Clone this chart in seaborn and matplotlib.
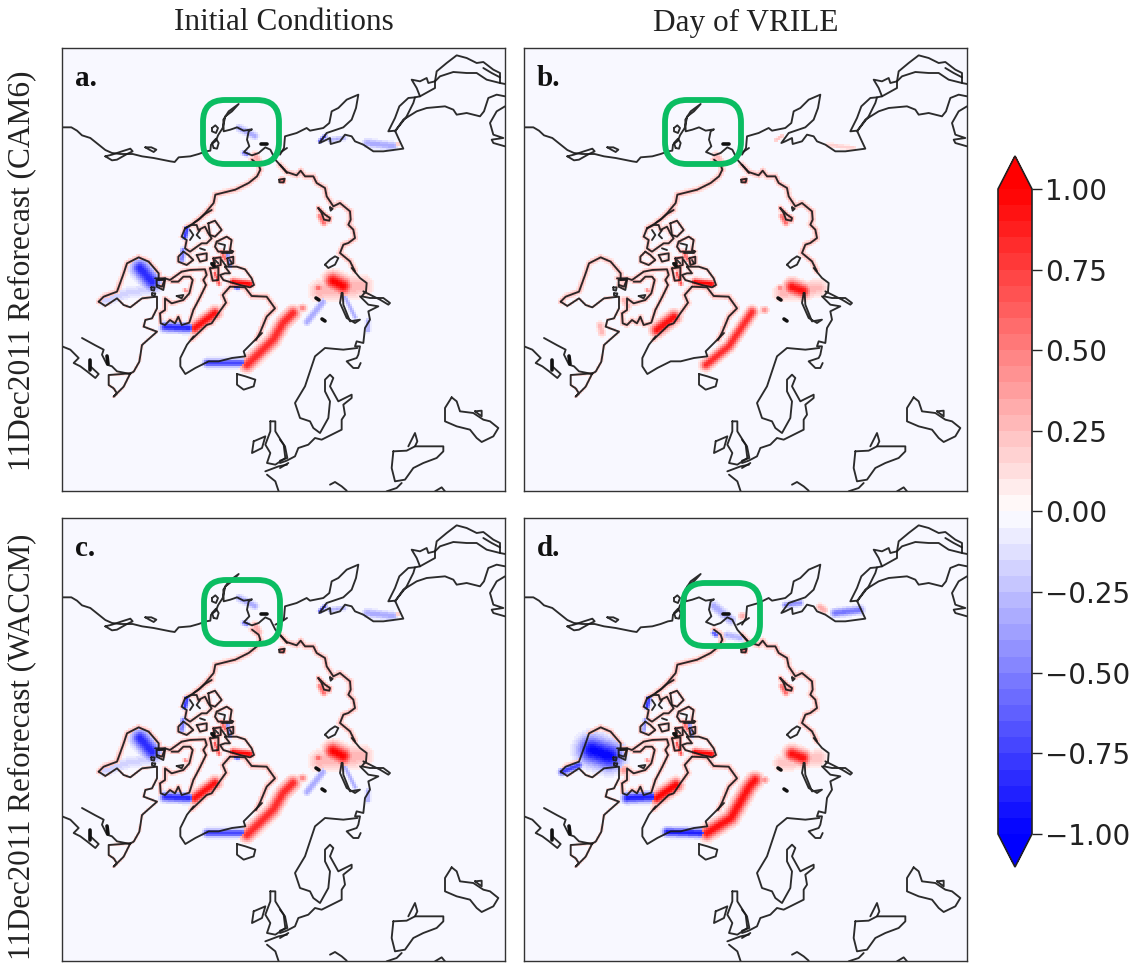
import numpy as np
import matplotlib
matplotlib.use("Agg")
import matplotlib.pyplot as plt
from matplotlib.colors import ListedColormap, BoundaryNorm
from matplotlib.cm import ScalarMappable
from matplotlib.patches import FancyBboxPatch
import seaborn as sns

W, H = 1138, 963
row_titles = ["11Dec2011 Reforecast (CAM6)", "11Dec2011 Reforecast (WACCM)"]
col_titles = ["Initial Conditions", "Day of VRILE"]
panel_labels = ["a.", "b.", "c.", "d."]
cbar_ticks = [-1.0, -0.75, -0.5, -0.25, 0.0, 0.25, 0.5, 0.75, 1.0]

# coastlines, grouped by the region they were read from (region origin, lines)
coast_top_left = ((0, 0), [
 [(0,238),(28,238),(45,248),(60,262),(85,270),(110,290),(130,306),(150,315),(175,318),(212,318),(240,325),(275,330),(300,335),(325,340),(338,342),(350,328),(385,325),(410,318),(432,310),(445,308),(447,290),(462,278),(468,262),(482,240),(490,205),(510,190),(530,168),(500,190),(484,215),(485,250),(505,245),(525,238),(545,248),(570,244),(560,250),(555,275),(562,295),(546,312),(570,322),(590,315),(610,298),(625,305),(640,335),(675,375)],
 [(130,325),(150,337),(165,335),(195,318),(212,310),(205,302),(180,310),(150,320),(130,325)],
 [(250,298),(268,298),(283,305),(275,312),(262,305),(250,298)],
 [(450,240),(460,232),(468,240),(462,255),(450,250),(450,240)],
 [(455,300),(450,285),(462,272),(470,285),(465,302),(455,300)],
 [(570,335),(590,350),(595,365),(585,385),(560,405),(520,425),(460,440),(455,465),(430,495),(410,515),(395,525)],
 [(652,395),(668,392),(665,403),(652,403),(652,395)],
 [(640,320),(660,310),(675,300)],
])
coast_top_right = ((218, 0), [
 [(0,320),(12,300),(15,265),(50,255),(80,240),(90,248),(130,240),(148,225),(155,190),(175,180),(200,155),(235,140),(228,180),(215,215),(190,238),(140,255),(118,285),(130,280),(150,270),(152,288),(180,280),(195,260),(215,265),(225,280),(250,290),(280,310),(310,310),(370,302),(355,270),(345,248),(325,250),(345,210),(358,175),(385,150),(405,148),(400,165),(380,205),(345,250),(370,215),(410,190),(440,180),(495,175),(520,185),(530,200),(560,195),(600,205),(612,190),(625,150),(650,140),(675,145)],
 [(405,148),(420,145),(410,120),(395,95),(420,100),(440,90),(445,105),(465,100),(470,70),(500,45),(530,22),(560,30),(590,45),(610,42),(640,65),(660,75),(660,105)],
 [(465,100),(480,85),(520,72),(560,75),(590,75),(620,95),(660,105),(675,108)],
 [(420,145),(465,120),(465,100)],
 [(610,60),(635,75),(660,88)],
 [(675,175),(650,190),(630,225),(640,260),(670,270),(635,275),(640,285),(675,295)],
 [(0,350),(20,372),(50,382),(62,368),(75,385),(100,385),(110,405),(135,420),(140,445),(160,475),(180,465),(210,490),(212,515),(205,530),(220,545),(225,570),(205,585),(190,590),(180,615),(210,640),(225,670)],
 [(115,480),(135,500),(150,510),(148,518),(132,515),(125,495),(115,480)],
 [(150,478),(158,482),(152,488),(150,478)],
 [(135,650),(150,635),(165,625),(175,630),(165,650),(145,660),(135,650)],
])
coast_bottom_right = ((218, 220), [
 [(215,0),(240,30),(260,45),(258,70),(245,85),(270,90),(310,90),(330,105),(325,110),(300,95),(250,70)],
 [(185,75),(180,105),(200,150),(225,165),(240,155),(210,160),(200,135),(190,110),(188,75),(185,75)],
 [(240,85),(265,110),(295,115),(265,130),(270,155),(255,180),(250,225),(230,220),(225,235),(240,235),(235,260),(230,270),(200,280),(220,300),(235,300),(242,285)],
 [(232,240),(190,245),(135,240),(105,265),(90,310),(75,355),(45,405),(60,450),(90,460),(100,480),(120,495),(145,450),(150,400),(135,370),(135,335),(150,320),(160,330),(150,355),(175,400),(215,380),(215,390),(190,410),(195,440),(185,455),(185,485),(155,500),(125,515),(105,510),(85,530),(55,540),(45,565),(20,578),(0,585)],
 [(0,515),(15,535),(22,570),(0,578)],
 [(0,600),(25,585)],
 [(340,550),(380,548),(405,535),(490,535),(490,550),(470,570),(430,585),(400,600),(375,635),(345,640),(335,600),(340,550)],
 [(385,535),(400,505),(405,495),(412,520),(405,535)],
 [(515,388),(495,420),(495,460),(530,475),(570,485),(590,510),(605,522),(640,505),(655,480),(630,460),(610,455),(580,435),(540,430),(530,400),(515,388)],
 [(585,430),(605,428),(605,445),(585,430)],
 [(150,650),(165,642),(185,655),(200,668)],
 [(320,670),(350,660),(365,645)],
 [(465,670),(485,658),(495,670)],
])
coast_bottom_left = ((0, 220), [
 [(0,235),(25,245),(50,270),(35,285),(55,295),(75,310),(100,330),(110,318),(85,295),(85,280)],
 [(60,210),(100,232),(125,245),(120,260),(135,290),(150,295),(165,310),(205,318)],
 [(600,195),(570,225),(545,250),(550,265),(510,270),(470,280),(440,280),(400,300),(370,318),(355,295),(355,270),(375,230),(395,205)],
 [(525,318),(550,325),(580,335),(575,355),(545,365),(525,350),(525,318)],
 [(625,460),(640,460),(640,490),(665,530),(670,570),(640,590),(615,585),(625,555),(610,530),(625,490),(625,460)],
 [(575,520),(610,505),(600,540),(570,555),(575,520)],
 [(610,610),(650,595),(675,590)],
 [(615,620),(640,640),(650,670)],
])
coast_canada = ((0, 182), [
 [(110,215),(125,200),(165,185),(185,130),(195,100),(230,82),(260,95),(290,130),(290,150),(310,145),(300,170),(285,165)],
 [(110,215),(130,228),(165,205),(185,225),(205,232),(240,205),(285,200),(285,235),(270,265),(250,270),(245,290),(285,305),(240,345),(232,395),(215,425),(205,430),(140,435),(140,465),(155,475),(165,490),(155,500),(185,470),(205,430)],
 [(268,172),(278,172),(276,182),(268,180),(268,172)],
 [(270,190),(280,190),(278,198),(270,196),(270,190)],
])
coast_archipelago = ((88, 162), [
 [(185,0),(165,12),(150,25),(130,40),(105,55)],
 [(105,55),(125,45),(140,45),(145,60),(165,50),(175,70),(185,85),(170,100),(155,100),(120,125),(105,115),(110,90),(95,80),(105,55)],
 [(175,40),(195,32),(215,60),(195,80),(180,75),(175,40)],
 [(100,125),(85,140),(85,155),(110,165),(130,150),(115,135),(100,125)],
 [(140,135),(170,130),(170,150),(150,155),(140,135)],
 [(200,95),(230,80),(245,90),(240,120),(250,125),(205,125),(195,110),(200,95)],
 [(190,145),(212,142),(212,165),(195,170),(190,145)],
 [(232,145),(250,140),(250,160),(235,165),(232,145)],
 [(180,175),(205,172),(205,210),(188,212),(180,175)],
 [(225,170),(260,170),(285,178),(305,205),(312,225),(300,232),(270,225),(220,210),(210,195),(225,190),(240,190),(225,170)],
 [(15,205),(45,205),(60,210),(95,185),(120,180),(165,178),(170,195),(160,210),(168,225),(150,262),(130,300),(118,338),(95,345),(85,320),(75,340),(60,330),(45,345),(32,340),(30,310),(45,300),(45,265),(65,280),(100,270),(118,250),(128,210),(120,200),(100,200),(85,215),(65,215)],
 [(80,258),(100,255),(95,265),(80,258)],
 [(20,210),(45,210),(40,240),(20,230),(20,210)],
 [(240,230),(218,255),(228,278),(205,310),(185,340),(170,345),(125,388)],
 [(240,230),(285,232),(305,258),(350,260),(375,295),(350,320),(330,368),(318,390)],
 [(205,100),(225,105),(222,120)],
 [(195,150),(205,160)],
 [(183,160),(195,160)],
 [(240,150),(246,160)],
 [(150,60),(140,75),(150,85)],
 [(120,60),(130,75),(120,90)],
 [(150,115),(165,120)],
 [(215,130),(245,130)],
 [(215,150),(228,168)],
])
coast_groups = [coast_top_left, coast_top_right, coast_bottom_right, coast_bottom_left, coast_canada, coast_archipelago]

thick_marks = [[(199,96),(205,96)], [(254,250),(257,252)], [(28,312),(28,322)], [(45,308),(46,316)], [(260,271),(263,273)], [(150,216),(152,218)]]

# coast lines that carry a pale fringe: (group, line index, half-width, value)
fringe_lines = [
 (coast_top_left, 5, 3.0, 0.3),
 (coast_top_right, 6, 3.0, 0.3),
 (coast_top_right, 7, 2.5, 0.4),
 (coast_canada, 0, 3.0, 0.28),
 (coast_canada, 1, 1.5, 0.2),
 (coast_archipelago, 0, 3.0, 0.3),
 (coast_archipelago, 1, 2.5, 0.25),
 (coast_archipelago, 2, 2.0, 0.25),
 (coast_archipelago, 3, 2.0, 0.25),
 (coast_archipelago, 4, 2.0, 0.25),
 (coast_archipelago, 5, 2.0, 0.3),
 (coast_archipelago, 6, 2.0, 0.4),
 (coast_archipelago, 7, 2.0, 0.4),
 (coast_archipelago, 8, 2.0, 0.4),
 (coast_archipelago, 10, 2.5, 0.3),
 (coast_archipelago, 13, 3.0, 0.3),
 (coast_archipelago, 14, 3.0, 0.3),
 (coast_archipelago, 9, 2.0, 0.25),
]

# Anomaly strokes per panel: (points in panel pixels, half-width, value)
common_red = [
 ([(171,234),(188,236)], 3.5, 1.0),
 ([(123,242),(124,243)], 2, 0.5),
 ([(160,204),(163,211)], 2.5, 0.6),
 ([(153,225),(157,236)], 2, 0.7),
 ([(258,168),(262,175)], 3, 0.6),
 ([(220,132),(221,133)], 3, 0.5),
]
ic_strokes = [
 ([(133,280),(153,265)], 5.5, 0.95),
 ([(103,279),(127,280)], 4.5, -0.85),
 ([(78,220),(90,234)], 8, -0.85),
 ([(42,253),(65,245),(95,240)], 6, -0.17),
 ([(145,315),(180,315)], 3.8, -0.75),
 ([(185,317),(211,292),(221,275),(231,265)], 6, 0.85),
 ([(271,233),(281,238)], 8, 1.0),
 ([(258,243),(300,238)], 10, 0.3),
 ([(256,240),(257,240)], 3.5, 0.6),
 ([(240,260),(241,260)], 3.5, 0.5),
 ([(245,274),(261,254)], 3.5, -0.35),
 ([(283,249),(293,269)], 2.5, -0.3),
 ([(306,273),(306,282)], 2.5, -0.35),
 ([(305,95),(331,98)], 4, -0.35),
 ([(335,96),(336,96)], 2, 0.25),
 ([(177,80),(193,88)], 3.5, -0.35),
 ([(182,105),(185,106)], 2.5, -0.55),
 ([(193,107),(197,114)], 3.5, 0.35),
 ([(258,93),(263,88)], 2, -0.7),
 ([(268,92),(282,90)], 2.5, -0.3),
 ([(125,180),(123,189)], 2.5, -0.8),
 ([(121,202),(120,212)], 2.5, -0.55),
 ([(173,239),(176,240)], 2, -0.8),
 ([(165,205),(168,218)], 2.5, -0.45),
]
strokes_a = ic_strokes
strokes_b = [
 ([(133,282),(150,269)], 6, 0.95),
 ([(182,317),(205,298),(228,264)], 5, 0.85),
 ([(268,239),(279,243)], 7, 0.95),
 ([(258,245),(295,240)], 8, 0.28),
 ([(256,240),(257,240)], 3, 0.5),
 ([(240,262),(241,262)], 3.5, 0.45),
 ([(76,277),(78,285)], 3.5, 0.3),
 ([(100,252),(104,258)], 3.5, 0.3),
 ([(192,107),(197,114)], 3.5, 0.3),
 ([(304,97),(330,100)], 2.5, 0.18),
 ([(252,92),(258,88)], 2, 0.25),
]
strokes_c = ic_strokes
strokes_d = [
 ([(133,280),(152,267)], 6, 1.0),
 ([(103,280),(128,279)], 4.8, -0.9),
 ([(68,232),(85,238)], 13, -1.0),
 ([(92,244),(93,244)], 3.5, -0.6),
 ([(38,254),(55,247)], 3.5, -0.75),
 ([(100,252),(101,252)], 5, 0.4),
 ([(143,314),(177,315)], 4.2, -0.9),
 ([(183,315),(207,300),(225,269),(231,262)], 6.5, 0.95),
 ([(268,236),(279,240)], 7, 0.95),
 ([(258,245),(295,240)], 8, 0.25),
 ([(240,262),(241,262)], 3.5, 0.45),
 ([(311,95),(336,92)], 4, -0.55),
 ([(296,89),(300,92)], 3.5, 0.35),
 ([(261,87),(276,85)], 3, -0.45),
 ([(190,88),(207,102)], 4.5, -0.35),
 ([(218,98),(219,98)], 3.5, 0.35),
 ([(203,117),(217,120)], 3.5, -0.3),
 ([(190,115),(192,117)], 2.5, -0.65),
 ([(125,180),(123,189)], 2.5, -0.8),
 ([(121,202),(120,212)], 2, -0.45),
 ([(165,205),(168,218)], 2.5, -0.45),
]
panel_strokes = [strokes_a, strokes_b, strokes_c, strokes_d]

# green highlight boxes per panel: x0, y0, x1, y1 in panel pixels
green_boxes = [(141, 52, 217, 116), (141, 52, 217, 116), (142, 62, 218, 126), (159, 65, 236, 128)]
panel_boxes_px = [(62, 48), (524, 48), (62, 518), (524, 518)]
PANEL_SIZE = 443
CELL = 2

# discrete bwr colormap, 40 bands
bands = plt.get_cmap("bwr")((np.arange(40) + 0.5) / 40)
cmap = ListedColormap(bands)
cmap.set_over("#ff0000")
cmap.set_under("#0000ff")
levels = np.linspace(-1, 1, 41)
norm = BoundaryNorm(levels, 40)


def seg_dist(px, py, a, b):
    a, b = np.array(a, float), np.array(b, float)
    d = b - a
    L = (d * d).sum()
    t = np.clip(((px - a[0]) * d[0] + (py - a[1]) * d[1]) / L, 0, 1)
    return np.hypot(px - a[0] - t * d[0], py - a[1] - t * d[1])


def to_panel(group, idx):
    (ox, oy), lines = group
    return [(ox + x / 3, oy + y / 3) for x, y in lines[idx]]


def build_field(strokes):
    n = PANEL_SIZE // CELL + 1
    c = (np.arange(n) + 0.5) * CELL
    px, py = np.meshgrid(c, c)
    field = np.full((n, n), -0.01)
    for pts, r, val in strokes:
        d = np.min([seg_dist(px, py, pts[i], pts[i + 1]) for i in range(len(pts) - 1)], axis=0)
        v = val * np.exp(-(d / r) ** 2)
        mask = (np.abs(v) > np.abs(field)) & (np.abs(v) > 0.06)
        field[mask] = v[mask]
    return field


sns.set_theme(style="white")
plt.rcParams["font.family"] = ["DejaVu Sans"]
fig = plt.figure(figsize=(W / 100, H / 100), dpi=100)


def fx(x):
    return x / W


def fy(y):
    return 1 - y / H


fringe = [(to_panel(g, k), r, v) for g, k, r, v in fringe_lines]

for i, (x0, y0) in enumerate(panel_boxes_px):
    ax = fig.add_axes([fx(x0), fy(y0 + PANEL_SIZE), PANEL_SIZE / W, PANEL_SIZE / H])
    strokes = fringe + list(panel_strokes[i]) + common_red
    sns.heatmap(build_field(strokes), ax=ax, cmap=cmap, norm=norm, cbar=False,
                xticklabels=False, yticklabels=False, rasterized=True)
    for (ox, oy), lines in coast_groups:
        for line in lines:
            arr = np.array(line, float)
            ax.plot((ox + arr[:, 0] / 3) / CELL, (oy + arr[:, 1] / 3) / CELL,
                    color="#1a1a1a", lw=1.35, solid_joinstyle="round", alpha=0.92)
    for line in thick_marks:
        arr = np.array(line, float)
        ax.plot(arr[:, 0] / CELL, arr[:, 1] / CELL, color="#111111", lw=2.6, solid_capstyle="round")
    bx0, by0, bx1, by1 = green_boxes[i]
    ax.add_patch(FancyBboxPatch((bx0 / CELL, by0 / CELL), (bx1 - bx0) / CELL, (by1 - by0) / CELL,
                                boxstyle="round,pad=0,rounding_size=11", fc="none", ec="#0bbd62",
                                lw=4.2, zorder=6))
    ax.set_xlim(0, PANEL_SIZE / CELL)
    ax.set_ylim(PANEL_SIZE / CELL, 0)
    for s in ax.spines.values():
        s.set_visible(True)
        s.set_color("#333333")
        s.set_linewidth(1.0)
    ax.text(13 / CELL, 30 / CELL, panel_labels[i], fontfamily="Liberation Serif", fontweight="bold",
            fontsize=21, color="#111111", va="center", ha="left", zorder=7)

for x, t in zip([284, 746], col_titles):
    fig.text(fx(x), fy(23), t, ha="center", va="center", fontfamily="Liberation Serif",
             fontsize=22.5, color="#222222")
for y, t, size in zip([271, 747], row_titles, [22.6, 22.3]):
    fig.text(fx(22), fy(y), t, rotation=90, ha="center", va="center", fontfamily="Liberation Serif",
             fontsize=size, color="#222222")

cax = fig.add_axes([fx(998), fy(867), 34 / W, (867 - 156) / H])
sm = ScalarMappable(norm=norm, cmap=cmap)
cb = fig.colorbar(sm, cax=cax, extend="both", extendfrac=33 / 645, spacing="proportional", ticks=cbar_ticks)
cb.ax.minorticks_off()
cb.ax.set_yticklabels(["\u22121.00", "\u22120.75", "\u22120.50", "\u22120.25", "0.00", "0.25", "0.50", "0.75", "1.00"])
cb.ax.tick_params(labelsize=20, length=7, width=1, colors="#222222", pad=2.5, left=False, right=True)
cb.outline.set_edgecolor("#222222")
cb.outline.set_linewidth(1.2)

fig.savefig("out.png", dpi=100)
